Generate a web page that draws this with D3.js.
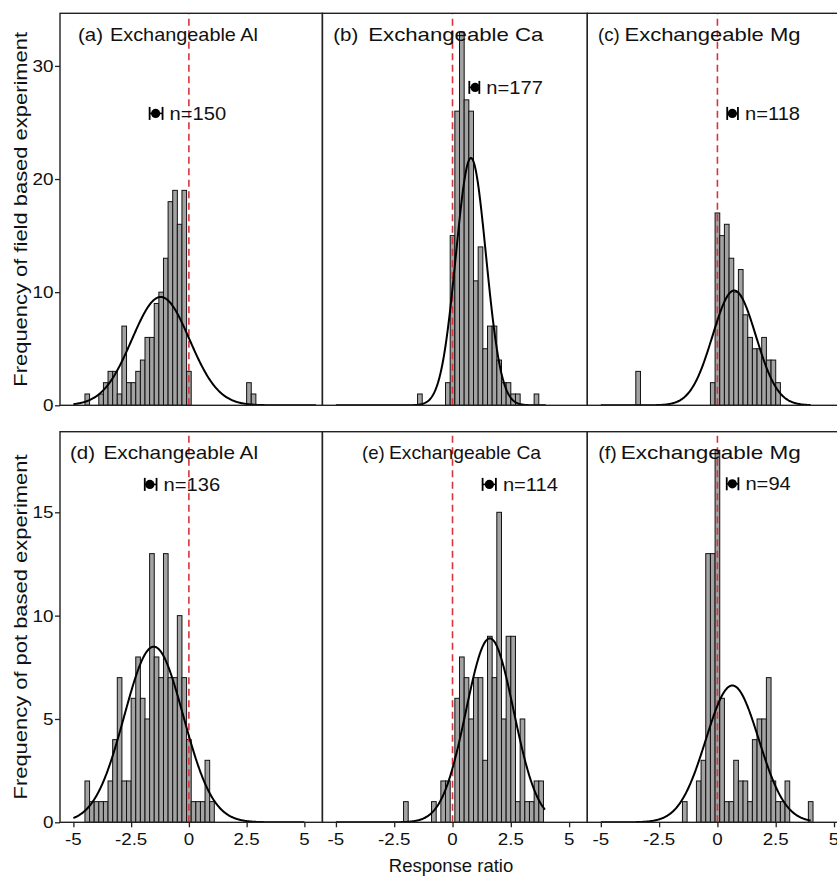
<!DOCTYPE html>
<html>
<head>
<meta charset="utf-8">
<script src="https://cdn.jsdelivr.net/npm/d3@7"></script>
<style>
  body { margin: 0; background: #fff; }
  svg { display: block; }
  text { font-family: "Liberation Sans", Arial, Helvetica, sans-serif; fill: #111; }
</style>
</head>
<body>
<svg id="chart" width="837" height="879"></svg>
<script>
// ---- data -------------------------------------------------------------
// Histogram counts per 0.2-wide bin; bins are centred on multiples of 0.2,
// each list starts at the bin centre given in binStart.
const binWidth = 0.2;
const panelTags = ["(a)", "(b)", "(c)", "(d)", "(e)", "(f)"];
const panelNames = ["Exchangeable Al", "Exchangeable Ca", "Exchangeable Mg",
                    "Exchangeable Al", "Exchangeable Ca", "Exchangeable Mg"];
const sampleSizes = [150, 177, 118, 136, 114, 94];
const binStart = [-4.4, -1.4, -3.4, -4.4, -2.0, -1.4];

const countsFieldAl = [1, 0, 0, 1, 2, 3, 3, 1, 7, 2, 2, 3, 4, 6, 6, 9, 10, 13, 18, 19, 16, 19, 3,
                       0, 0, 0, 0, 0, 0, 0, 0, 0, 0, 0, 0, 2, 1];
const countsFieldCa = [1, 0, 0, 0, 0, 0, 2, 15, 26, 33, 27, 26, 11, 14, 5, 7, 7, 4, 2, 2, 1, 1, 0, 0, 0, 1];
const countsFieldMg = [3, 0, 0, 0, 0, 0, 0, 0, 0, 0, 0, 0, 0, 0, 0, 0, 2, 17, 15, 16, 13, 10, 12, 8, 6, 5, 5, 6, 4, 4, 2];
const countsPotAl   = [2, 1, 1, 1, 1, 2, 4, 7, 2, 2, 6, 8, 6, 5, 13, 8, 7, 13, 7, 7, 10, 7, 4, 1, 1, 1, 3, 1];
const countsPotCa   = [1, 0, 0, 0, 0, 0, 1, 0, 2, 2, 0, 6, 8, 7, 5, 7, 7, 3, 9, 7, 15, 5, 9, 9, 1, 5, 1, 1, 2, 2];
const countsPotMg   = [1, 0, 0, 2, 3, 13, 13, 18, 6, 1, 1, 3, 2, 2, 1, 4, 5, 5, 7, 2, 1, 1, 2, 0, 0, 0, 0, 1];
const panelCounts = [countsFieldAl, countsFieldCa, countsFieldMg, countsPotAl, countsPotCa, countsPotMg];

// fitted normal curves (mean, sd) and the span each curve is drawn over
const fitMean = [-1.22, 0.79, 0.72, -1.52, 1.60, 0.64];
const fitSd   = [1.25, 0.646, 0.928, 1.277, 1.022, 1.133];
const fitFrom = [-5, -5, -5, -5, -5, -5];
const fitTo   = [5.5, 4, 4, 5, 3.96, 4];

// mean response ratio with 95% CI, and the height (count units) it is shown at
const meanRR  = [-1.44, 0.97, 0.64, -1.69, 1.58, 0.64];
const ciLow   = [-1.70, 0.72, 0.42, -1.91, 1.29, 0.40];
const ciHigh  = [-1.14, 1.15, 0.88, -1.40, 1.86, 0.90];
const markerY = [25.8, 28.1, 25.8, 16.35, 16.35, 16.38];

const rowYMax = [34.65, 18.9];
const rowYTicks = [[0, 10, 20, 30], [0, 5, 10, 15]];
const xTicks = [-5, -2.5, 0, 2.5, 5];
const xTickLabels = ["-5", "-2.5", "0", "2.5", "5"];
const rowTitles = ["Frequency of field based experiment", "Frequency of pot based experiment"];
const xTitle = "Response ratio";

// ---- layout -----------------------------------------------------------
const colX = [[60, 322.4], [322.4, 587.3], [587.3, 852.2]];
const rowY = [[13.3, 405.3], [431.7, 822.3]];
const xDomain = [-5.58, 5.78];
const tagX  = [78, 333.3, 598, 70, 362, 598.3];
const tagSx = [1.1, 1.1, 1.0, 1.1, 1.0, 1.05];
const nameX = [110, 368.3, 624.5, 103.5, 389, 620.7];
const nameW = [148, 175, 176, 154.5, 152, 180];
const titleDy = 27.5;

const svg = d3.select("#chart");
const defs = svg.append("defs");

function stretchedText(g, str, x, y, sx, size, anchor) {
  return g.append("text")
    .attr("transform", `translate(${x},${y}) scale(${sx},1)`)
    .attr("text-anchor", anchor || "start")
    .attr("font-size", size)
    .text(str);
}

panelCounts.forEach((counts, p) => {
  const row = Math.floor(p / 3), col = p % 3;
  const x = d3.scaleLinear().domain(xDomain).range(colX[col]);
  const y = d3.scaleLinear().domain([0, rowYMax[row]]).range([rowY[row][1], rowY[row][0]]);
  const g = svg.append("g");

  defs.append("clipPath").attr("id", "clip" + p)
    .append("rect")
    .attr("x", colX[col][0]).attr("y", rowY[row][0])
    .attr("width", colX[col][1] - colX[col][0]).attr("height", rowY[row][1] - rowY[row][0]);
  const plot = g.append("g").attr("clip-path", `url(#clip${p})`);

  // histogram bars
  const bins = counts.map((c, i) => ({ mid: binStart[p] + i * binWidth, count: c }))
                     .filter(d => d.count > 0);
  plot.selectAll("rect.bar").data(bins).join("rect")
    .attr("class", "bar")
    .attr("x", d => x(d.mid - binWidth / 2))
    .attr("width", d => x(d.mid + binWidth / 2) - x(d.mid - binWidth / 2))
    .attr("y", d => y(d.count))
    .attr("height", d => y(0) - y(d.count))
    .attr("fill", "#a3a3a3")
    .attr("stroke", "#111")
    .attr("stroke-width", 1);

  // zero reference line
  plot.append("line")
    .attr("x1", x(0)).attr("x2", x(0))
    .attr("y1", y(0)).attr("y2", rowY[row][0])
    .attr("stroke", "#d8333a").attr("stroke-width", 1.6)
    .attr("stroke-dasharray", "7,4.5");

  // fitted normal density scaled to counts
  const scale = sampleSizes[p] * binWidth;
  const pts = d3.range(fitFrom[p], fitTo[p] + 1e-9, 0.02).map(v => [v,
    scale * Math.exp(-0.5 * ((v - fitMean[p]) / fitSd[p]) ** 2) / (fitSd[p] * Math.sqrt(2 * Math.PI))]);
  plot.append("path")
    .attr("d", d3.line().x(d => x(d[0])).y(d => y(d[1]))(pts))
    .attr("fill", "none").attr("stroke", "#000").attr("stroke-width", 2);

  // panel frame
  g.append("rect")
    .attr("x", colX[col][0]).attr("y", rowY[row][0])
    .attr("width", colX[col][1] - colX[col][0]).attr("height", rowY[row][1] - rowY[row][0])
    .attr("fill", "none").attr("stroke", "#222").attr("stroke-width", 1.4);

  // mean with CI
  const my = y(markerY[p]);
  g.append("line").attr("x1", x(ciLow[p])).attr("x2", x(ciHigh[p]))
    .attr("y1", my).attr("y2", my).attr("stroke", "#000").attr("stroke-width", 1.6);
  [ciLow[p], ciHigh[p]].forEach(v => g.append("line")
    .attr("x1", x(v)).attr("x2", x(v)).attr("y1", my - 6.5).attr("y2", my + 6.5)
    .attr("stroke", "#000").attr("stroke-width", 1.8));
  g.append("circle").attr("cx", x(meanRR[p])).attr("cy", my).attr("r", 4.6).attr("fill", "#000");
  stretchedText(g, "n=" + sampleSizes[p], x(ciHigh[p]) + 7, my + 6.6, 1.12, 18);

  // panel title: tag and variable name
  const ty = rowY[row][0] + titleDy;
  stretchedText(g, panelTags[p], tagX[p], ty, tagSx[p], 18.6);
  g.append("text")
    .attr("x", nameX[p]).attr("y", ty)
    .attr("font-size", 18.6)
    .attr("textLength", nameW[p])
    .attr("lengthAdjust", "spacingAndGlyphs")
    .text(panelNames[p]);

  // y axis on the first column
  if (col === 0) {
    const ya = g.append("g").attr("transform", `translate(${colX[col][0]},0)`)
      .call(d3.axisLeft(y).tickValues(rowYTicks[row]).tickSize(5));
    ya.select(".domain").remove();
    ya.selectAll("line").attr("stroke", "#222").attr("stroke-width", 1.3);
    ya.selectAll("text").remove();
    rowYTicks[row].forEach(t => stretchedText(g, String(t), colX[col][0] - 6.5, y(t) + 5.9, 1.16, 16.3, "end"));
  }
  // x axis on the bottom row
  if (row === 1) {
    const xa = g.append("g").attr("transform", `translate(0,${rowY[row][1]})`)
      .call(d3.axisBottom(x).tickValues(xTicks).tickSize(5));
    xa.select(".domain").remove();
    xa.selectAll("line").attr("stroke", "#222").attr("stroke-width", 1.3);
    xa.selectAll("text").remove();
    xTicks.forEach((t, i) => stretchedText(g, xTickLabels[i], x(t), 845, 1.15, 16.3, "middle"));
  }
});

// axis titles
stretchedText(svg, xTitle, 451, 872, 1.0, 18.5, "middle");
rowTitles.forEach((t, r) => {
  const cy = (rowY[r][0] + rowY[r][1]) / 2;
  svg.append("text")
    .attr("transform", `translate(27,${cy}) rotate(-90) scale(1.18,1)`)
    .attr("text-anchor", "middle")
    .attr("font-size", 18.6)
    .text(t);
});
</script>
</body>
</html>
